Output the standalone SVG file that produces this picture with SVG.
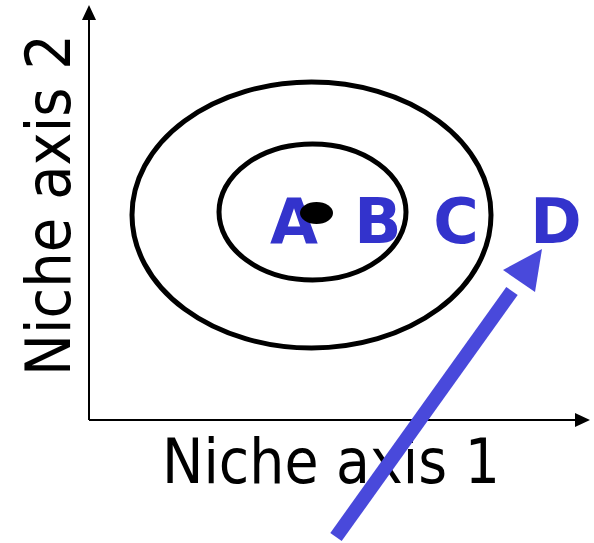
<svg xmlns="http://www.w3.org/2000/svg" width="594" height="543" viewBox="0 0 594 543">
<style>
.axis{stroke:#000;stroke-width:2;fill:none}
.ring{stroke:#000;stroke-width:5;fill:none}
.lbl{font-family:"DejaVu Sans",Verdana,sans-serif;font-weight:bold;font-size:62px;fill:#3333CC;text-anchor:middle}
.ax{font-family:"DejaVu Sans",Verdana,sans-serif;font-size:62px;fill:#000;text-anchor:middle}
</style>
<rect width="594" height="543" fill="#fff"/>
<g id="connectors">
<line class="axis" x1="89" y1="420" x2="89" y2="18"/>
<polygon points="89,5 82,20 96,20" fill="#000"/>
<line class="axis" x1="89" y1="420" x2="576" y2="420"/>
<polygon points="590,420 575,413 575,427" fill="#000"/>
</g>
<g id="outer-ring"><ellipse class="ring" cx="311.5" cy="215" rx="179.5" ry="133"/></g>
<g id="inner-ring"><ellipse class="ring" cx="312.5" cy="212" rx="93.5" ry="68"/></g>
<g id="label-A"><text class="lbl" x="294" y="243">A</text></g>
<g id="dot"><ellipse cx="316.5" cy="213" rx="16.5" ry="11" fill="#000"/></g>
<g id="label-B"><text class="lbl" x="378" y="243">B</text></g>
<g id="label-C"><text class="lbl" x="456" y="243">C</text></g>
<g id="label-D"><text class="lbl" x="556" y="243">D</text></g>
<g id="x-axis-label"><text class="ax" x="331" y="483" textLength="338" lengthAdjust="spacingAndGlyphs">Niche axis 1</text></g>
<g id="y-axis-label"><text class="ax" transform="translate(70,205) rotate(-90)" x="0" y="0" textLength="342" lengthAdjust="spacingAndGlyphs">Niche axis 2</text></g>
<g id="arrow">
<line x1="336" y1="537" x2="512" y2="291" stroke="#4949DB" stroke-width="14"/>
<polygon points="542,249 503,270 535,292" fill="#4949DB"/>
</g>
</svg>
